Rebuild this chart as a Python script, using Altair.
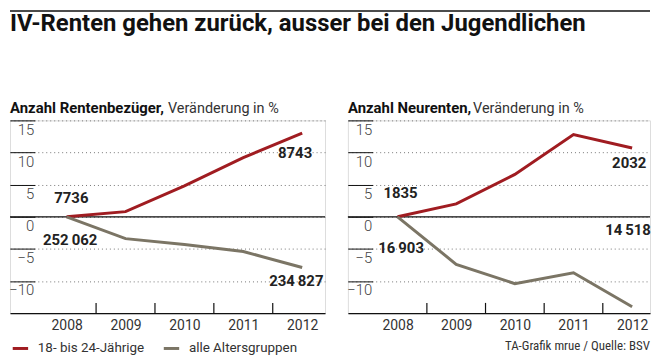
import altair as alt
import pandas as pd

# ---------------- data ----------------
years = [2008, 2009, 2010, 2011, 2012]
groups = ["18- bis 24-Jährige", "alle Altersgruppen"]

rentner_jung = [0, 0.8, 4.8, 9.2, 13.0]
rentner_alle = [0, -3.4, -4.3, -5.4, -7.9]
neu_jung = [0, 2.0, 6.6, 12.8, 10.7]
neu_alle = [0, -7.4, -10.4, -8.7, -14.0]

y_ticks = [-10, -5, 0, 5, 10, 15]
x_tick_marks = [2008.5, 2009.5, 2010.5, 2011.5]

labels_left_text = ["7736", "252\u2009062", "8743", "234\u2009827"]
labels_left_year = [2008.08, 2008.06, 2011.88, 2011.9]
labels_left_level = [2.9, -3.55, 9.9, -10.05]

labels_right_text = ["1835", "16\u2009903", "2032", "14\u2009518"]
labels_right_year = [2008.05, 2008.06, 2011.95, 2011.93]
labels_right_level = [3.7, -4.9, 8.3, -2.0]

title_text = "IV-Renten gehen zurück, ausser bei den Jugendlichen"
source_text = "TA-Grafik mrue / Quelle: BSV"

SANS = "Roboto, 'Liberation Sans', sans-serif"
COND = "'Roboto Condensed', Roboto, sans-serif"
RED = "#a01c21"
GRAY = "#7b7565"
H = 194


def panel(jung, alle, sub_bold, sub_rest, rest_x, x_domain, width, lt, ly, ll, extra=None):
    df = pd.DataFrame({
        "Jahr": years * 2,
        "Wert": jung + alle,
        "Gruppe": [groups[0]] * len(years) + [groups[1]] * len(years),
    })
    xs = alt.Scale(domain=x_domain, nice=False, zero=False)
    ys = alt.Scale(domain=[-15, 15], nice=False, zero=False)
    xax = alt.Axis(
        values=years, format="d", title=None, grid=False, ticks=False,
        domain=True, domainColor="#111", domainWidth=1.2,
        labelFont=SANS, labelFontSize=14, labelColor="#333",
        labelPadding=5, labelFlush=False, labelOverlap=False)
    yax = alt.Axis(
        values=y_ticks, orient="left", offset=-25, title=None,
        domain=False, ticks=True, tickSize=25, tickColor="#111", tickWidth=1,
        labelAlign="right", labelBaseline="top", labelPadding=-24, labelOffset=2,
        labelFont=SANS, labelFontSize=15, labelFontWeight=300, labelColor="#444",
        labelFlush=False, labelOverlap=False,
        grid=True, gridDash=[1, 3], gridColor="#777", gridWidth=1)

    lines = alt.Chart(df).mark_line(strokeWidth=3, strokeJoin="miter").encode(
        x=alt.X("Jahr:Q", scale=xs, axis=xax),
        y=alt.Y("Wert:Q", scale=ys, axis=yax),
        color=alt.Color("Gruppe:N", scale=alt.Scale(domain=groups, range=[RED, GRAY]),
                        legend=alt.Legend(
                            orient="none", legendX=1, legendY=220, direction="horizontal",
                            title=None, symbolType="stroke", symbolStrokeWidth=3,
                            symbolSize=240, labelFont=SANS, labelFontSize=13.5, padding=0,
                            labelColor="#333", columnPadding=12, labelOffset=8)),
    )
    zero = alt.Chart(pd.DataFrame({"z": [0]})).mark_rule(color="#111", strokeWidth=1.2).encode(
        y=alt.Y("z:Q", scale=ys, axis=yax))
    ticks = alt.Chart(pd.DataFrame({"t": x_tick_marks, "y0": [-15] * 4, "y1": [-13.4] * 4})).mark_rule(
        color="#111", strokeWidth=1.2).encode(
        x=alt.X("t:Q", scale=xs, axis=xax),
        y=alt.Y("y0:Q", scale=ys, axis=yax), y2="y1:Q")
    lab = alt.Chart(pd.DataFrame({"text": lt, "Jahr": ly, "Wert": ll})).mark_text(
        font=SANS, fontWeight="bold", fontSize=15, color="#222", align="center", baseline="middle"
    ).encode(x=alt.X("Jahr:Q", scale=xs, axis=xax), y=alt.Y("Wert:Q", scale=ys, axis=yax),
             text="text:N")
    sb = alt.Chart(pd.DataFrame({"t": [sub_bold]})).mark_text(
        font=SANS, fontWeight="bold", fontSize=15, color="#111", align="left", baseline="alphabetic"
    ).encode(x=alt.value(0), y=alt.value(-7), text="t:N")
    sr = alt.Chart(pd.DataFrame({"t": [sub_rest]})).mark_text(
        font=SANS, fontSize=14.5, color="#333", align="left", baseline="alphabetic"
    ).encode(x=alt.value(rest_x), y=alt.value(-7), text="t:N")
    layers = [zero, ticks, lines, lab, sb, sr]
    if extra:
        layers += extra
    return alt.layer(*layers).properties(width=width, height=H)


title = alt.Chart(pd.DataFrame({"t": [title_text]})).mark_text(
    font=SANS, fontWeight="bold", fontSize=24, color="#111", align="left", baseline="alphabetic"
).encode(x=alt.value(0), y=alt.value(-90), text="t:N")
top_rule = alt.Chart(pd.DataFrame({"a": [0]})).mark_rule(color="#111", strokeWidth=1.5).encode(
    x=alt.value(0), x2=alt.value(644), y=alt.value(-110))
source = alt.Chart(pd.DataFrame({"t": [source_text]})).mark_text(
    font=COND, fontSize=13, color="#333", align="right", baseline="middle"
).encode(x=alt.value(304), y=alt.value(227), text="t:N")

left = panel(rentner_jung, rentner_alle, "Anzahl Rentenbezüger,", "Veränderung in %", 159,
             [2007.038, 2012.388], 317, labels_left_text, labels_left_year, labels_left_level,
             extra=[title, top_rule])
right = panel(neu_jung, neu_alle, "Anzahl Neurenten,", "Veränderung in %", 126,
              [2007.153, 2012.305], 304, labels_right_text, labels_right_year, labels_right_level,
              extra=[source])

chart = alt.hconcat(left, right, spacing=23, bounds="flush").properties(
    padding=0
).configure_view(stroke=None).configure(background="white")

chart.save("out.html", embed_options={"renderer": "svg", "actions": False})
